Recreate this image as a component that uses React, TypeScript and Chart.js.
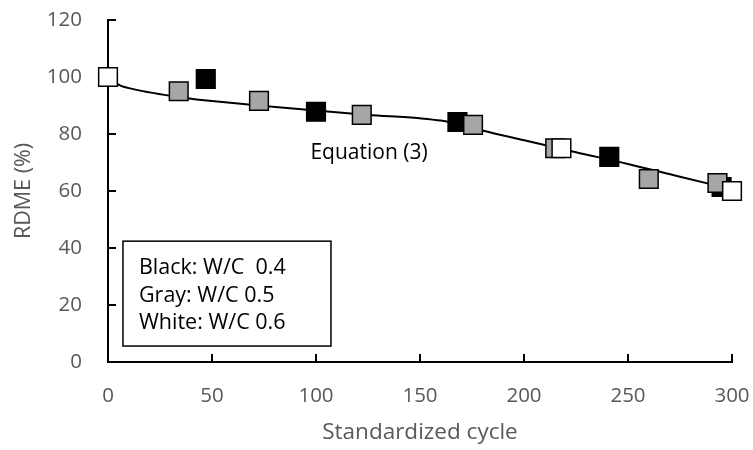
import React, { useEffect, useRef } from "react";
import { Chart, registerables } from "chart.js";

Chart.register(...registerables);

const blackX = [47, 100, 168, 241, 295];
const blackY = [99.3, 87.8, 84.2, 72, 61.4];
const grayX = [34, 72.6, 122, 175.5, 215, 260, 293];
const grayY = [95, 91.6, 86.7, 83.2, 75, 64.2, 62.8];
const whiteX = [0, 218, 300];
const whiteY = [100, 75, 60];
const curveX = [0, 3, 6, 10, 20, 30, 40, 50, 75, 100, 125, 150, 160, 170, 180, 200, 225, 250, 275, 300];
const curveY = [100, 98.3, 97, 96.1, 94.6, 93.4, 92.4, 91.6, 89.8, 88.2, 86.7, 85.5, 84.7, 83.2, 81.2, 77.8, 73.6, 69.5, 65, 60.6];
const legendLines = ["Black: W/C  0.4", "Gray: W/C 0.5", "White: W/C 0.6"];
const equationLabel = "Equation (3)";

const FONT = "'Open Sans', 'Noto Sans', sans-serif";
const GRAYTXT = "#595959";

const toPts = (xs: number[], ys: number[]) => xs.map((x, i) => ({ x, y: ys[i] }));

const decorPlugin = {
  id: "decor",
  beforeDatasetsDraw(chart: any) {
    const { ctx, scales } = chart;
    const xs = scales.x;
    const ys = scales.y;
    ctx.save();
    ctx.strokeStyle = "#000";
    ctx.lineWidth = 2;
    const x0 = Math.round(xs.getPixelForValue(0));
    const y0 = Math.round(ys.getPixelForValue(0));
    ctx.beginPath();
    ctx.moveTo(x0, ys.getPixelForValue(120) - 1);
    ctx.lineTo(x0, y0);
    ctx.lineTo(xs.getPixelForValue(300) + 1, y0);
    ctx.stroke();
    ctx.beginPath();
    for (let v = 20; v <= 120; v += 20) {
      const py = Math.round(ys.getPixelForValue(v));
      ctx.moveTo(x0, py);
      ctx.lineTo(x0 + 8, py);
    }
    for (let v = 50; v <= 300; v += 50) {
      const px = Math.round(xs.getPixelForValue(v));
      ctx.moveTo(px, y0);
      ctx.lineTo(px, y0 - 8);
    }
    ctx.stroke();
    ctx.restore();
  },
  afterDraw(chart: any) {
    const { ctx, scales } = chart;
    const xs = scales.x;
    const ys = scales.y;
    ctx.save();
    const bx1 = xs.getPixelForValue(7.2);
    const bx2 = xs.getPixelForValue(107.2);
    const by1 = ys.getPixelForValue(42.4);
    const by2 = ys.getPixelForValue(5.6);
    ctx.fillStyle = "#fff";
    ctx.fillRect(bx1, by1, bx2 - bx1, by2 - by1);
    ctx.strokeStyle = "#000";
    ctx.lineWidth = 1.5;
    ctx.strokeRect(bx1, by1, bx2 - bx1, by2 - by1);
    ctx.fillStyle = "#000";
    ctx.font = `21.5px ${FONT}`;
    ctx.textBaseline = "middle";
    ctx.textAlign = "left";
    const offs = [27, 55, 82];
    legendLines.forEach((t, i) => {
      ctx.fillText(t, bx1 + 16, by1 + offs[i]);
    });
    ctx.font = `21px ${FONT}`;
    ctx.textAlign = "center";
    ctx.fillText(equationLabel, xs.getPixelForValue(125.5), ys.getPixelForValue(73.3));
    ctx.restore();
  },
};

export default function App() {
  const ref = useRef<HTMLCanvasElement>(null);
  useEffect(() => {
    document.body.style.margin = "0";
    const marker = (fill: string, order: number, xs: number[], ys: number[], label: string) => ({
      label,
      type: "scatter" as const,
      data: toPts(xs, ys),
      pointStyle: "rect",
      pointRadius: 13.2,
      pointHoverRadius: 13.2,
      backgroundColor: fill,
      borderColor: "#000",
      pointBorderWidth: 1.5,
      borderWidth: 1.5,
      showLine: false,
      clip: false,
      order,
    });
    const chart = new Chart(ref.current!, {
      type: "scatter",
      data: {
        datasets: [
          marker("#ffffff", 1, whiteX, whiteY, "White"),
          marker("#a6a6a6", 2, grayX, grayY, "Gray"),
          marker("#000000", 3, blackX, blackY, "Black"),
          {
            label: "Equation (3)",
            type: "line",
            data: toPts(curveX, curveY),
            borderColor: "#000",
            borderWidth: 2,
            pointRadius: 0,
            showLine: true,
            fill: false,
            clip: false,
            cubicInterpolationMode: "monotone",
            order: 4,
          } as any,
        ],
      },
      options: {
        animation: false,
        responsive: false,
        maintainAspectRatio: false,
        layout: { padding: { top: 20, right: 21, left: 0, bottom: 0 } },
        plugins: { legend: { display: false }, tooltip: { enabled: false } },
        scales: {
          x: {
            type: "linear",
            min: 0,
            max: 300,
            grid: { display: false, drawTicks: false },
            border: { display: false },
            ticks: { stepSize: 50, color: GRAYTXT, font: { family: FONT, size: 20.5 }, padding: 22 },
            title: { display: true, text: "Standardized cycle", color: GRAYTXT, font: { family: FONT, size: 22.5 }, padding: { top: 4 } },
            afterFit: (s: any) => { s.height = 88; s.paddingLeft = 0; s.paddingRight = 0; },
          },
          y: {
            type: "linear",
            min: 0,
            max: 120,
            grid: { display: false, drawTicks: false },
            border: { display: false },
            ticks: { stepSize: 20, color: GRAYTXT, font: { family: FONT, size: 20.5 }, padding: 26 },
            title: { display: true, text: "RDME (%)", color: GRAYTXT, font: { family: FONT, size: 21.5 }, padding: { top: 11, bottom: 0 } },
            afterFit: (s: any) => { s.width = 108; s.paddingTop = 0; s.paddingBottom = 0; },
          },
        },
      },
      plugins: [decorPlugin],
    });
    return () => chart.destroy();
  }, []);
  return (
    <div style={{ width: 753, height: 450 }}>
      <canvas ref={ref} width={753} height={450} style={{ display: "block" }} />
    </div>
  );
}
